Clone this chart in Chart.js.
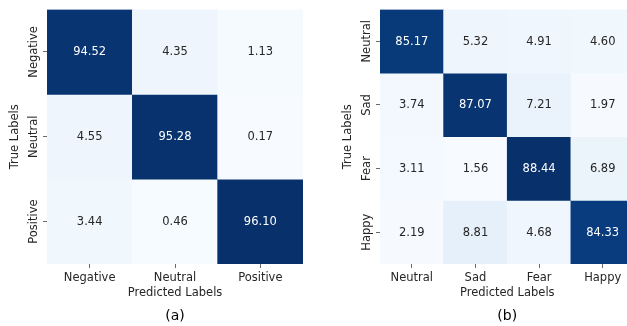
<!DOCTYPE html>
<html>
<head>
<meta charset="utf-8">
<script src="https://cdn.jsdelivr.net/npm/chart.js@4.4.1/dist/chart.umd.min.js"></script>
<style>
  html, body { margin: 0; padding: 0; background: #ffffff; overflow: hidden; }
  body { width: 627px; height: 326px; position: relative; }
  canvas { position: absolute; top: 0; }
  #cmA { left: 0px; }
  #cmB { left: 300px; }
</style>
</head>
<body>
<canvas id="cmA" width="310" height="326"></canvas>
<canvas id="cmB" width="340" height="326"></canvas>
<script>
// ---- data ----
const sentimentClasses = ['Negative', 'Neutral', 'Positive'];
const sentimentRates = [
  [94.52, 4.35, 1.13],
  [4.55, 95.28, 0.17],
  [3.44, 0.46, 96.10]
];
const emotionClasses = ['Neutral', 'Sad', 'Fear', 'Happy'];
const emotionRates = [
  [85.17, 5.32, 4.91, 4.60],
  [3.74, 87.07, 7.21, 1.97],
  [3.11, 1.56, 88.44, 6.89],
  [2.19, 8.81, 4.68, 84.33]
];
const xAxisTitle = 'Predicted Labels';
const yAxisTitle = 'True Labels';
const panelCaptions = ['(a)', '(b)'];

// ---- styling ----
const FONT = '"DejaVu Sans", Verdana, sans-serif';
const LABEL_SIZE = 11.5;
const TEXT_DARK = '#262626';
const BLUES = ['#f7fbff', '#deebf7', '#c6dbef', '#9ecae1', '#6baed6',
               '#4292c6', '#2171b5', '#08519c', '#08306b'];

function hexToRgb(h) {
  return [parseInt(h.slice(1, 3), 16), parseInt(h.slice(3, 5), 16), parseInt(h.slice(5, 7), 16)];
}
function blues(t) {
  t = Math.max(0, Math.min(1, t));
  const pos = t * (BLUES.length - 1);
  const i = Math.min(Math.floor(pos), BLUES.length - 2);
  const f = pos - i;
  const a = hexToRgb(BLUES[i]), b = hexToRgb(BLUES[i + 1]);
  const c = a.map((v, k) => Math.round(v + (b[k] - v) * f));
  return `rgb(${c[0]},${c[1]},${c[2]})`;
}

function drawMatrix(canvasId, classes, rates, caption, geom) {
  const n = classes.length;
  const flat = rates.flat();
  const vmin = Math.min(...flat), vmax = Math.max(...flat);
  const norm = v => (v - vmin) / (vmax - vmin);

  // one dataset per true-label row; each bar spans that row on the y scale
  const datasets = rates.map((row, r) => ({
    label: classes[r],
    data: row.map(() => [r, r + 1]),
    backgroundColor: row.map(v => blues(norm(v))),
    borderWidth: 0,
    barPercentage: 1,
    categoryPercentage: 1
  }));

  const annotate = {
    id: 'annotate',
    afterDatasetsDraw(chart) {
      const ctx = chart.ctx;
      const area = chart.chartArea;
      const yScale = chart.scales.y;
      ctx.save();
      // cell values
      ctx.font = `${LABEL_SIZE}px ${FONT}`;
      ctx.textAlign = 'center';
      ctx.textBaseline = 'middle';
      rates.forEach((row, r) => {
        const meta = chart.getDatasetMeta(r);
        row.forEach((v, c) => {
          const el = meta.data[c];
          ctx.fillStyle = norm(v) > 0.5 ? '#ffffff' : TEXT_DARK;
          ctx.fillText(v.toFixed(2), el.x, (el.y + el.base) / 2 + 0.5);
        });
      });
      // rotated row labels
      ctx.fillStyle = TEXT_DARK;
      ctx.textBaseline = 'alphabetic';
      classes.forEach((name, r) => {
        const py = yScale.getPixelForValue(r + 0.5);
        ctx.save();
        ctx.translate(area.left - 10, py);
        ctx.rotate(-Math.PI / 2);
        ctx.fillText(name, 0, 0);
        ctx.restore();
      });
      // y axis title
      ctx.save();
      ctx.translate(area.left - 32, (area.top + area.bottom) / 2);
      ctx.rotate(-Math.PI / 2);
      ctx.textBaseline = 'middle';
      ctx.fillText(yAxisTitle, 0, 0);
      ctx.restore();
      // panel caption
      ctx.font = `14px ${FONT}`;
      ctx.fillStyle = '#000000';
      ctx.textBaseline = 'middle';
      ctx.fillText(caption, (area.left + area.right) / 2, 316);
      ctx.restore();
    }
  };

  return new Chart(document.getElementById(canvasId), {
    type: 'bar',
    data: { labels: classes, datasets },
    options: {
      responsive: false,
      maintainAspectRatio: false,
      animation: false,
      devicePixelRatio: 1,
      layout: { padding: { left: 0, right: geom.padRight, top: 9.5, bottom: 0 } },
      plugins: { legend: { display: false }, tooltip: { enabled: false } },
      scales: {
        x: {
          type: 'category',
          stacked: true,
          offset: true,
          border: { display: false },
          grid: { offset: false, drawOnChartArea: false, drawTicks: true,
                  tickLength: 4, tickColor: '#444444', tickWidth: 0.8 },
          ticks: { color: TEXT_DARK, font: { family: FONT, size: LABEL_SIZE }, padding: 3,
                   maxRotation: 0, minRotation: 0, autoSkip: false },
          title: { display: true, text: xAxisTitle, color: TEXT_DARK,
                   font: { family: FONT, size: LABEL_SIZE }, padding: { top: 0, bottom: 26 } },
          afterFit(scale) { scale.height = 62; }
        },
        y: {
          type: 'linear',
          stacked: false,
          min: 0,
          max: n,
          reverse: true,
          border: { display: false },
          grid: { drawOnChartArea: false, drawTicks: true, tickLength: 4,
                  tickColor: '#444444', tickWidth: 0.8 },
          ticks: { display: false },
          afterBuildTicks(scale) { scale.ticks = classes.map((_, i) => ({ value: i + 0.5 })); },
          afterFit(scale) { scale.width = geom.axisWidth; }
        }
      }
    },
    plugins: [annotate]
  });
}

drawMatrix('cmA', sentimentClasses, sentimentRates, panelCaptions[0], { axisWidth: 47, padRight: 7 });
drawMatrix('cmB', emotionClasses, emotionRates, panelCaptions[1], { axisWidth: 80, padRight: 5.5 });
</script>
</body>
</html>
